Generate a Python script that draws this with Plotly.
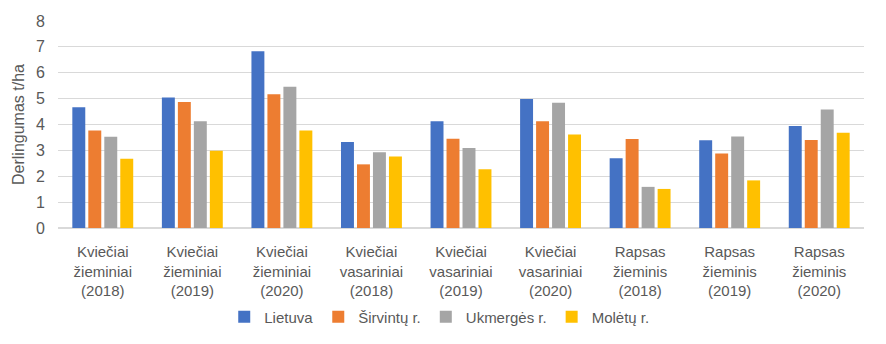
import plotly.graph_objects as go

categories = [
    "Kviečiai<br>žieminiai<br>(2018)", "Kviečiai<br>žieminiai<br>(2019)", "Kviečiai<br>žieminiai<br>(2020)",
    "Kviečiai<br>vasariniai<br>(2018)", "Kviečiai<br>vasariniai<br>(2019)", "Kviečiai<br>vasariniai<br>(2020)",
    "Rapsas<br>žieminis<br>(2018)", "Rapsas<br>žieminis<br>(2019)", "Rapsas<br>žieminis<br>(2020)",
]
lietuva = [4.67, 5.04, 6.83, 3.32, 4.13, 4.99, 2.70, 3.39, 3.94]
sirvintu = [3.77, 4.87, 5.17, 2.46, 3.45, 4.13, 3.44, 2.88, 3.40]
ukmerges = [3.53, 4.13, 5.46, 2.93, 3.09, 4.84, 1.59, 3.54, 4.58]
moletu = [2.68, 2.99, 3.77, 2.76, 2.27, 3.61, 1.51, 1.84, 3.68]

series = [
    ("Lietuva", lietuva, "#4472C4"),
    ("Širvintų r.", sirvintu, "#ED7D31"),
    ("Ukmergės r.", ukmerges, "#A5A5A5"),
    ("Molėtų r.", moletu, "#FFC000"),
]

FONT = "Liberation Sans, Arial, sans-serif"
fig = go.Figure()
for name, vals, col in series:
    fig.add_trace(go.Bar(x=categories, y=vals, name=name, marker_color=col,
                         marker_line_width=0))

fig.update_layout(
    width=886, height=344,
    margin=dict(l=58, r=22, t=21, b=115),
    paper_bgcolor="white", plot_bgcolor="white",
    barmode="group", bargap=0.286, bargroupgap=0.19,
    font=dict(family=FONT, size=15, color="#595959"),
    legend=dict(orientation="h", x=0.473, xanchor="center", y=-0.423, yanchor="middle",
                font=dict(size=15), itemwidth=30, traceorder="normal"),
)
fig.update_yaxes(range=[0, 8], dtick=1, showgrid=True, gridcolor="#D9D9D9", gridwidth=1,
                 zeroline=True, zerolinecolor="#D9D9D9", showline=False,
                 automargin=False, tickfont=dict(size=16), ticklabelstandoff=12,
                 title=dict(text="Derlingumas t/ha", font=dict(size=16), standoff=7))
fig.update_xaxes(showline=False, tickangle=0, automargin=False, ticklabelstandoff=13)

fig.write_html("out.html")
